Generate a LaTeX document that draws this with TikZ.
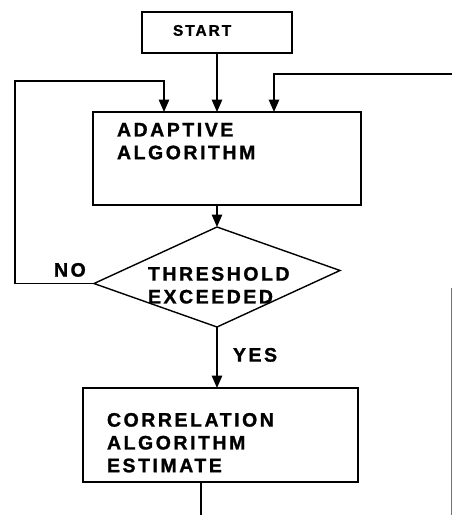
\documentclass[tikz,border=0pt]{standalone}
\usepackage{fontspec}
\newfontfamily\chartfont[LetterSpace=13, FakeBold=1.2, UprightFont={* Bold}]{Liberation Sans}
\usetikzlibrary{arrows.meta,shapes.geometric}

\begin{document}
\begin{tikzpicture}
        [x=1pt, y=-1pt,
        >={Triangle[length=12.5pt,width=10.5pt]},
        every node/.style={inner sep=0pt, outer sep=0pt},
        flow/.style={->, line width=1.4pt},
        wire/.style={line width=1.4pt},
        stub/.style={line width=1pt, draw=black!55},
        process/.style={draw, line width=1.4pt, rectangle},
        decision/.style={draw, line width=1.4pt, diamond},
        word/.style={font=\chartfont\fontsize{19.5}{22.8}\selectfont, align=left, anchor=north west},
        small word/.style={word, font=\chartfont\fontsize{15.4}{18}\selectfont}]

        \useasboundingbox (0,0) rectangle (452,515);

        \node[process, minimum width=150pt, minimum height=41pt] (start) at (217,32.5) {};
        \node[process, minimum width=268pt, minimum height=93pt] (adapt) at (227,158.5) {};
        \node[decision, minimum width=246pt, minimum height=100pt, yslant=0.053] (thr) at (217,277) {};
        \node[process, minimum width=275pt, minimum height=94pt] (corr) at (220.5,435) {};

        \node[small word] (starttxt) at ([shift={(31,13)}]start.north west) {START};
        \node[word] (adapttxt) at ([shift={(24,11)}]adapt.north west) {ADAPTIVE\\ALGORITHM};
        \node[word] (thrtxt) at ([shift={(-69,-10)}]thr.center) {THRESHOLD\\EXCEEDED};
        \node[word] (corrtxt) at ([shift={(24,25)}]corr.north west) {CORRELATION\\ALGORITHM\\ESTIMATE};
        \node[word] (no) at ([shift={(-40,-20.5)}]thr.west) {NO};
        \node[word] (yes) at ([shift={(16,21)}]thr.south) {YES};

        \coordinate (noback) at (15,81);
        \coordinate (nodrop) at (164,81);
        \coordinate (fbedge) at (452,74);
        \coordinate (fbdrop) at (274,74);
        \coordinate (fbtop) at (451,288);
        \coordinate (fbfoot) at (451,515);
        \coordinate (tail) at (201,515);

        \draw[flow] (start) -- (start |- adapt.north);
        \draw[flow] (adapt.south -| thr.north) -- (thr.north);
        \draw[flow] (thr.south) -- (thr.south |- corr.north);
        \draw[flow] (thr.west) -| (noback) -- (nodrop) -- (nodrop |- adapt.north);
        \draw[flow] (fbedge) -- (fbdrop) -- (fbdrop |- adapt.north);
        \draw[wire] (corr.south -| tail) -- (tail);
        \draw[stub] (fbtop) -- (fbfoot);
\end{tikzpicture}
\end{document}
